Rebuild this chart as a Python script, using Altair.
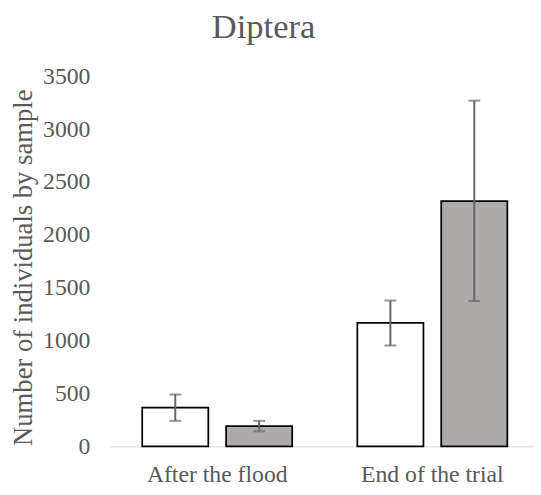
import altair as alt
import pandas as pd

groups = ["After the flood", "After the flood", "End of the trial", "End of the trial"]
series = ["Series 1", "Series 2", "Series 1", "Series 2"]
means = [366, 191, 1168, 2319]
err_low = [241, 142, 954, 1374]
err_high = [490, 241, 1379, 3269]
y_ticks = [0, 500, 1000, 1500, 2000, 2500, 3000, 3500]
group_order = ["After the flood", "End of the trial"]
series_order = ["Series 1", "Series 2"]

df = pd.DataFrame({"group": groups, "series": series, "mean": means,
                   "low": err_low, "high": err_high})

FONT = "Liberation Serif, DejaVu Serif, serif"
TXT = "#595959"
ERR = "#666666"

x_enc = alt.X("group:N", sort=group_order,
              scale=alt.Scale(paddingInner=0.3028, paddingOuter=0.1514),
              axis=alt.Axis(title=None, labelAngle=0, labelFont=FONT, labelFontSize=24,
                            labelColor=TXT, labelBaseline="alphabetic", labelPadding=36,
                            ticks=False, tickSize=0, domainColor="#d9d9d9", domainWidth=1,
                            grid=False))
xo_enc = alt.XOffset("series:N", sort=series_order,
                     scale=alt.Scale(paddingInner=0.212, paddingOuter=0))
y_scale = alt.Scale(domain=[0, 3500])

bars = alt.Chart(df).mark_bar(stroke="black", strokeWidth=1.75).encode(
    x=x_enc,
    xOffset=xo_enc,
    y=alt.Y("mean:Q", scale=y_scale,
            axis=alt.Axis(values=y_ticks, format="d", title="Number of individuals by sample",
                          labelFont=FONT, labelFontSize=24, labelColor=TXT, labelPadding=20,
                          ticks=False, tickSize=0, domain=False, grid=False,
                          titleFont=FONT, titleFontSize=27, titleColor=TXT,
                          titleFontWeight="normal", titleX=-79, titleY=193.5,
                          titleAlign="center", titleBaseline="alphabetic")),
    fill=alt.Fill("series:N", sort=series_order,
                  scale=alt.Scale(domain=series_order, range=["#ffffff", "#AEAAAA"]),
                  legend=None),
)

rules = alt.Chart(df).mark_rule(color=ERR, strokeWidth=2).encode(
    x=x_enc, xOffset=xo_enc, y=alt.Y("low:Q", scale=y_scale), y2="high:Q")

cap_lo = alt.Chart(df).mark_tick(color=ERR, size=12, thickness=2).encode(
    x=x_enc, xOffset=xo_enc, y=alt.Y("low:Q", scale=y_scale))
cap_hi = alt.Chart(df).mark_tick(color=ERR, size=12, thickness=2).encode(
    x=x_enc, xOffset=xo_enc, y=alt.Y("high:Q", scale=y_scale))

chart = alt.layer(bars, rules, cap_lo, cap_hi).properties(
    width=436, height=375,
    autosize=alt.AutoSizeParams(type="none"),
    padding={"left": 103, "top": 66, "right": -7, "bottom": 38},
    title=alt.TitleParams("Diptera", font=FONT, fontSize=35, fontWeight="normal",
                          color=TXT, anchor="middle", frame="group", dx=-62, offset=20),
).configure(background="white", font=FONT).configure_view(stroke=None)

chart.save("out.html", embed_options={"renderer": "svg", "actions": False})
